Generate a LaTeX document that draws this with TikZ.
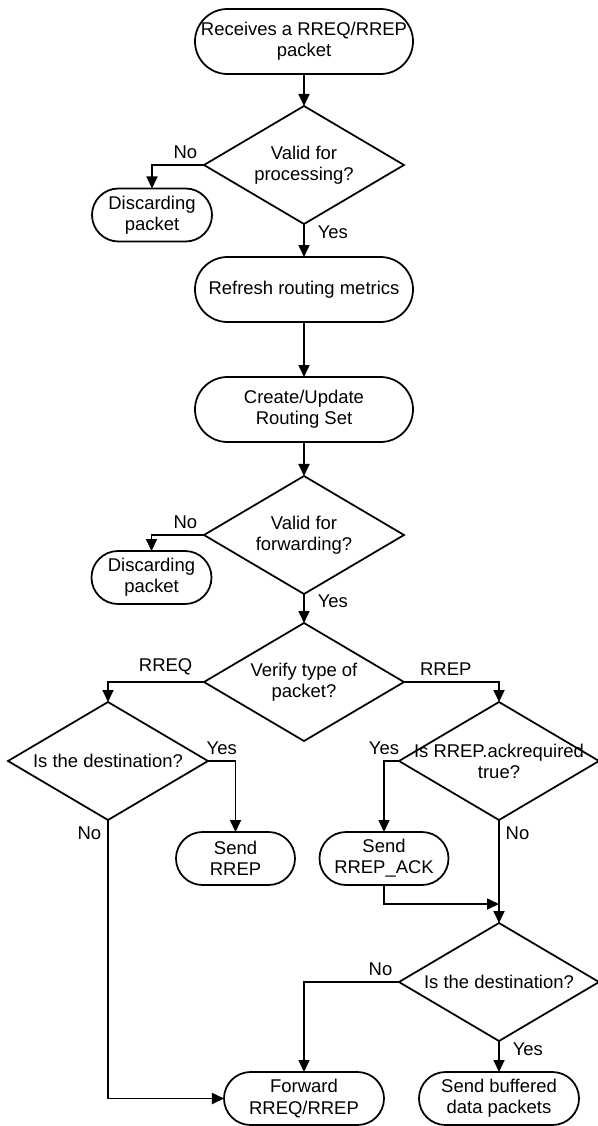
\documentclass[tikz,border=0pt]{standalone}
\usepackage{fontspec}
\setmainfont{Liberation Sans}
\usetikzlibrary{shapes.geometric, arrows.meta, positioning, calc}

\begin{document}
\begin{tikzpicture}[
            font=\fontsize{10.5}{12}\selectfont,
            line width=1pt,
            >={Triangle[length=0.24cm, width=0.22cm]},
            term/.style={rectangle, draw, rounded corners=0.65cm, minimum width=4.36cm, minimum height=1.3cm, align=center, inner sep=0pt, outer sep=0pt},
            small/.style={rectangle, draw, rounded corners=0.53cm, minimum height=1.06cm, align=center, inner sep=0pt, outer sep=0pt},
            decision/.style={diamond, draw, minimum width=4cm, minimum height=2.36cm, inner sep=0pt, outer sep=0pt},
            every label/.style={align=center}
        ]
        \useasboundingbox (-6.08,0.83) rectangle (5.88,-21.69);

        \node[term] (start) {Receives a RREQ/RREP\\packet};
        \node[decision, below=0.64cm of start, label=center:Valid for\\processing?] (valproc) {};
        \node[small, minimum width=2.4cm, below=0.47cm of valproc.west, xshift=-1.04cm] (discard1) {Discarding\\packet};
        \node[term, below=0.66cm of valproc] (refresh) {Refresh routing metrics};
        \node[term, below=1.1cm of refresh] (create) {Create/Update\\Routing Set};
        \node[decision, below=0.68cm of create, label=center:Valid for\\forwarding?] (valfwd) {};
        \node[small, minimum width=2.4cm, below=0.32cm of valfwd.west, xshift=-1.05cm] (discard2) {Discarding\\packet};
        \node[decision, below=0.58cm of valfwd, label=center:Verify type of\\packet?] (verify) {};

        % RREQ / RREP branches
        \node[decision, below=0.4cm of verify.west, xshift=-1.92cm, label=center:Is the destination?] (rreqdst) {};
        \node[decision, below=0.4cm of verify.east, xshift=1.9cm, label=center:Is RREP.ackrequired\\true?] (ackreq) {};
        \node[small, minimum width=2.38cm, below=1.42cm of rreqdst.east, xshift=0.55cm] (sendrrep) {Send\\RREP};
        \node[small, minimum width=2.58cm, below=1.42cm of ackreq.west, xshift=-0.3cm] (sendack) {Send\\RREP\_ACK};
        \coordinate[below=1.68cm of ackreq.south] (join);
        \node[decision, below=2.06cm of ackreq, label=center:Is the destination?] (rrepdst) {};
        \node[small, minimum width=3.2cm, below=6.62cm of verify] (forward) {Forward\\RREQ/RREP};
        \node[small, minimum width=3.2cm, below=0.62cm of rrepdst] (sendbuf) {Send buffered\\data packets};

        % Flow
        \draw[->] (start) -- (valproc);
        \draw[->] (valproc.west) node[above left] {No} -| (discard1);
        \draw[->] (valproc) -- node[right=4pt, near start] {Yes} (refresh);
        \draw[->] (refresh) -- (create);
        \draw[->] (create) -- (valfwd);
        \draw[->] (valfwd.west) node[above left] {No} -| (discard2);
        \draw[->] (valfwd) -- node[right=4pt, near start] {Yes} (verify);
        \draw[->] (verify.west) -| node[above, pos=0.2] {RREQ} (rreqdst);
        \draw[->] (verify.east) -| node[above, pos=0.22] {RREP} (ackreq);
        \draw[->] (rreqdst.east) -| node[above, pos=0.25] {Yes} (sendrrep);
        \draw[->] (rreqdst.south) node[below left] {No} |- (forward);
        \draw[->] (ackreq.west) -| node[above] {Yes} (sendack);
        \draw[->] (ackreq.south) node[below right] {No} -- (rrepdst);
        \draw[->] (sendack.south) |- (join);
        \draw[->] (rrepdst.west) node[above left] {No} -| (forward);
        \draw[->] (rrepdst) -- node[right=4pt, near start] {Yes} (sendbuf);

    \end{tikzpicture}
\end{document}
